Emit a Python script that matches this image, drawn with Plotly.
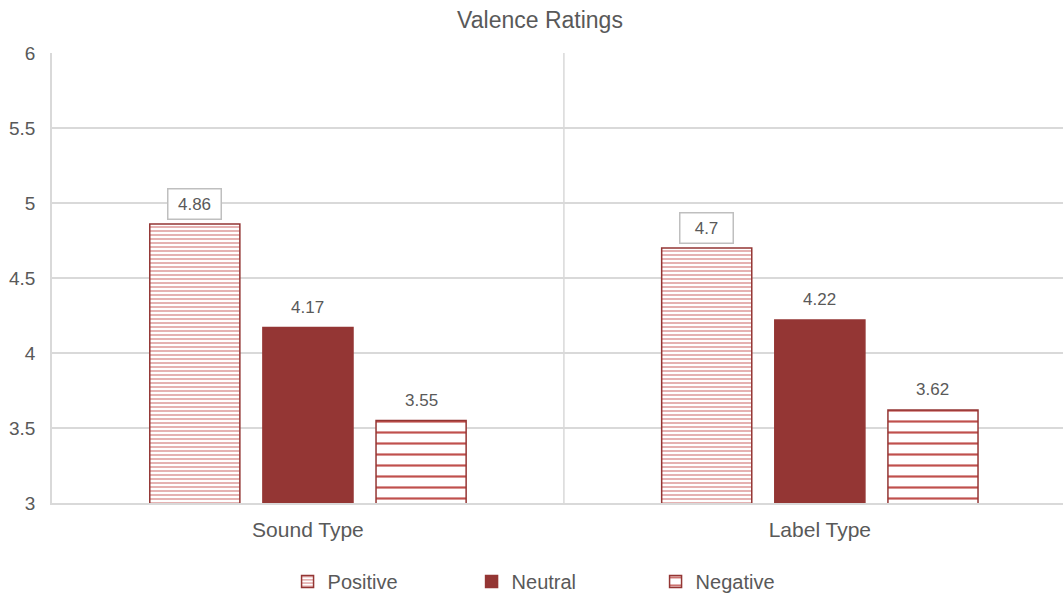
import plotly.graph_objects as go

categories = ["Sound Type", "Label Type"]
series_names = ["Positive", "Neutral", "Negative"]
positive = [4.86, 4.70]
neutral = [4.17, 4.22]
negative = [3.55, 3.62]
y_ticks = [3, 3.5, 4, 4.5, 5, 5.5, 6]
y_tick_labels = ["3", "3.5", "4", "4.5", "5", "5.5", "6"]

DARK = "#943634"
TEXT = "#595959"
GRID = "#d9d9d9"
FONT = "Liberation Sans, Arial, sans-serif"

xpos = list(range(len(categories)))
bar_w = 0.176
step = 0.221

styles = [
    dict(color="white", pattern=dict(shape="-", fgcolor="#e3aaa9", bgcolor="white", size=4, solidity=0.45, fillmode="replace")),
    dict(color=DARK),
    dict(color="white", pattern=dict(shape="-", fgcolor="#c0504d", bgcolor="white", size=11, solidity=0.2, fillmode="replace")),
]

fig = go.Figure()
all_vals = [positive, neutral, negative]
for i, (name, vals, st) in enumerate(zip(series_names, all_vals, styles)):
    off = (i - 1) * step - bar_w / 2
    fig.add_trace(go.Bar(
        x=xpos, y=vals, name=name, width=bar_w, offset=off, base=0,
        marker=dict(line=dict(color=DARK, width=1.5), **st),
        hoverinfo="skip",
    ))
    for xv, v in zip(xpos, vals):
        boxed = (name == "Positive")
        ann = dict(
            x=xv + (i - 1) * step, y=v, text=f"{v:g}", showarrow=False,
            yanchor="bottom", yshift=4 if boxed else 9,
            font=dict(family=FONT, size=17, color=TEXT),
        )
        if boxed:
            ann.update(bordercolor="#bfbfbf", borderwidth=1.5, borderpad=4,
                       bgcolor="white", width=44, height=21)
        fig.add_annotation(**ann)

# category separator
fig.add_shape(type="line", x0=0.5, x1=0.5, y0=0, y1=1, xref="x", yref="paper",
              line=dict(color=GRID, width=1.5), layer="below")

fig.update_layout(
    width=1063, height=595,
    margin=dict(l=52, r=0, t=53, b=92, autoexpand=False),
    paper_bgcolor="white", plot_bgcolor="white",
    title=dict(text="Valence Ratings", x=0.508, xanchor="center", y=0.966, yanchor="middle",
               font=dict(family=FONT, size=23, color=TEXT)),
    font=dict(family=FONT, color=TEXT),
    showlegend=True,
    legend=dict(orientation="h", x=0.506, xanchor="center", y=-0.131, yanchor="top",
                font=dict(family=FONT, size=20, color=TEXT),
                entrywidth=139, entrywidthmode="pixels", itemwidth=30, traceorder="normal"),
    barmode="overlay",
)
fig.update_xaxes(
    range=[-0.5, 1.475], tickvals=xpos, ticktext=categories,
    showgrid=False, zeroline=False, showline=True, linecolor=GRID, linewidth=1.5, ticks="",
    tickfont=dict(family=FONT, size=21, color=TEXT), ticklabelstandoff=7,
)
fig.update_yaxes(
    range=[3, 6], tickvals=y_ticks, ticktext=y_tick_labels,
    showgrid=True, gridcolor=GRID, gridwidth=1.5, zeroline=False,
    showline=True, linecolor=GRID, linewidth=1.5,
    tickfont=dict(family=FONT, size=19, color=TEXT), ticks="", ticklabelstandoff=11,
)

fig.write_html("out.html", config={"displayModeBar": False},
               post_script="document.body.style.margin='0';")
